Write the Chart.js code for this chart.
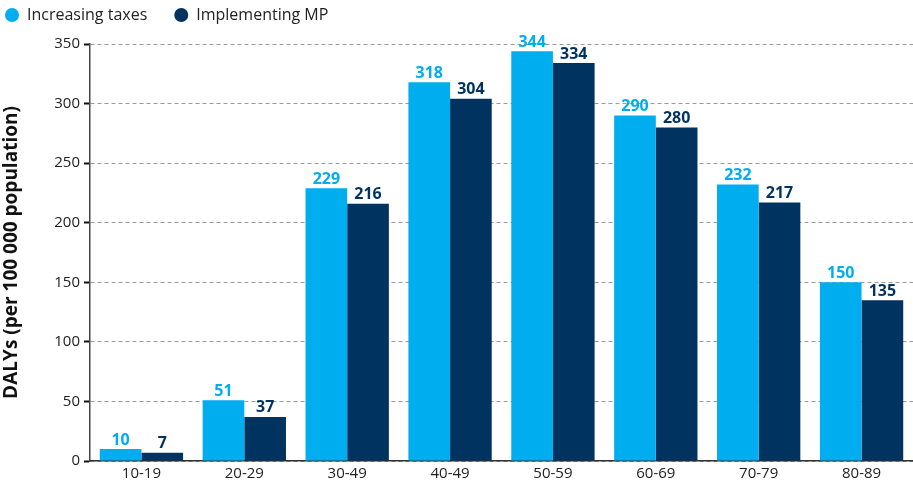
<!DOCTYPE html>
<html><head><meta charset="utf-8">
<script src="https://cdn.jsdelivr.net/npm/chart.js@4.4.0/dist/chart.umd.min.js"></script>
<style>html,body{margin:0;padding:0;background:#fff}#wrap{width:913px;height:487px}</style>
</head><body><div id="wrap"><canvas id="c"></canvas></div>
<script>
const categories = ["10-19","20-29","30-49","40-49","50-59","60-69","70-79","80-89"];
const taxes = [10,51,229,318,344,290,232,150];
const mp = [7,37,216,304,334,280,217,135];
const yTicks = [0,50,100,150,200,250,300,350];
const seriesNames = ["Increasing taxes","Implementing MP"];
const colors = ["#00AEEF","#00335F"];
const FONT = '"Open Sans", sans-serif';

const labelPlugin = {
  id:'labels',
  afterDatasetsDraw(chart){
    const ctx = chart.ctx;
    ctx.save();
    ctx.font = 'bold 16px ' + FONT;
    ctx.textAlign='center'; ctx.textBaseline='bottom';
    chart.data.datasets.forEach((ds,i)=>{
      const meta = chart.getDatasetMeta(i);
      ctx.fillStyle = ds.backgroundColor;
      meta.data.forEach((bar,j)=>{
        ctx.fillText(String(ds.data[j]), bar.x, bar.y-1);
      });
    });
    ctx.restore();
  }
};

const legendPlugin = {
  id:'customLegend',
  afterDraw(chart){
    const ctx = chart.ctx;
    ctx.save();
    ctx.font = '16px ' + FONT;
    ctx.textBaseline='middle'; ctx.textAlign='left';
    let x = 5; const y = 15;
    chart.data.datasets.forEach((ds,i)=>{
      ctx.fillStyle = ds.backgroundColor;
      ctx.beginPath(); ctx.arc(x+7, y, 7, 0, Math.PI*2); ctx.fill();
      ctx.fillStyle = '#222';
      ctx.fillText(ds.label, x+22, y);
      x += 22 + ctx.measureText(ds.label).width + 27;
    });
    ctx.restore();
  }
};

new Chart(document.getElementById('c'),{
  type:'bar',
  data:{labels:categories,datasets:[
    {label:seriesNames[0],data:taxes,backgroundColor:colors[0],barPercentage:1,categoryPercentage:0.81},
    {label:seriesNames[1],data:mp,backgroundColor:colors[1],barPercentage:1,categoryPercentage:0.81}
  ]},
  options:{
    responsive:true,maintainAspectRatio:false,animation:false,
    layout:{padding:{left:0,right:0,top:44,bottom:0}},
    plugins:{legend:{display:false},tooltip:{enabled:false}},
    scales:{
      x:{grid:{display:false,drawTicks:false},border:{color:'#333',width:1.5},
        ticks:{color:'#222',padding:4,font:{family:FONT,size:15}}},
      y:{min:0,max:350,
        afterBuildTicks(s){s.ticks=yTicks.map(v=>({value:v}));},
        afterFit(s){s.width=90;},
        grid:{color:'#9a9a9a',tickColor:'#111',tickLength:6,tickWidth:2},
        border:{color:'#444',width:1.5,dash:[4,3]},
        ticks:{color:'#222',padding:4,font:{family:FONT,size:15}},
        title:{display:true,text:'DALYs (per 100 000 population)',color:'#111',padding:{top:0,bottom:4},
          font:{family:FONT,size:19,weight:'bold'}}}
    }
  },
  plugins:[labelPlugin,legendPlugin]
});
</script></body></html>
